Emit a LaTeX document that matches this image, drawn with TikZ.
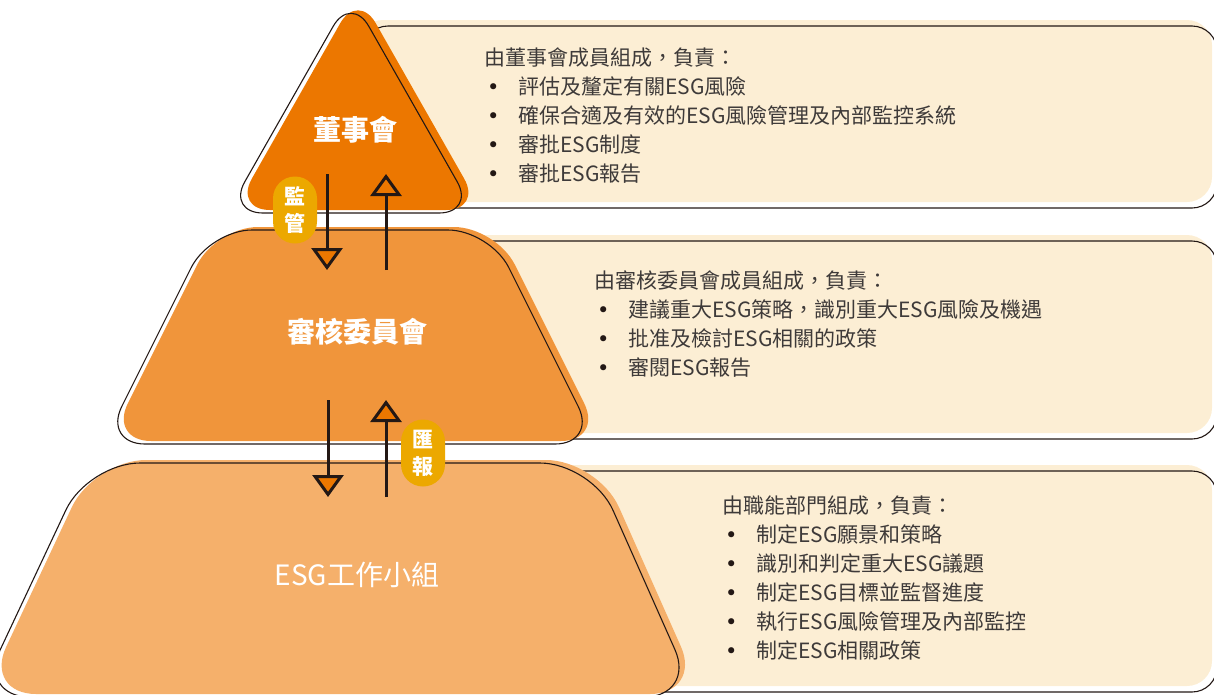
\documentclass[tikz,border=0pt]{standalone}
\usepackage{fontspec}
\setmainfont{Noto Sans CJK TC}
\newfontfamily\bulfont{DejaVu Sans}
\usetikzlibrary{arrows.meta}

\definecolor{tierA}{RGB}{236,119,0}
\definecolor{tierB}{RGB}{240,149,59}
\definecolor{tierC}{RGB}{245,176,107}
\definecolor{cream}{RGB}{252,238,212}
\definecolor{badgeC}{RGB}{236,168,0}
\definecolor{lineC}{RGB}{35,24,21}
\definecolor{textC}{RGB}{62,58,57}

\tikzset{
  edgeline/.style={draw=lineC, line width=1.1pt},
  flow/.style={-{Triangle[width=31pt,length=22pt,line width=3pt,fill=tierA]}, draw=lineC, line width=3pt},
  badge/.style={fill=badgeC, rounded corners=22pt, minimum width=44pt, minimum height=67pt,
    inner sep=0pt, text=white, align=center, font=\fontsize{21}{27}\selectfont\bfseries},
  tiertext/.style={text=white, font=\fontsize{28}{30}\selectfont},
  bodytext/.style={text=textC, align=left, anchor=north west, inner sep=0pt,
    font=\fontsize{21}{29}\selectfont},
}
\newcommand{\bul}{\hspace*{3pt}\makebox[31pt][l]{\textcolor{lineC}{\bulfont •}}}

\begin{document}
\begin{tikzpicture}[x=1pt,y=-1pt]
    \clip (0,0) rectangle (1214,694);

    % text panels
    \fill[cream, rounded corners=25pt] (358,20) rectangle (1212,202);
    \draw[edgeline, rounded corners=25pt, xshift=5pt, yshift=-6pt] (358,20) rectangle (1212,202);
    \fill[cream, rounded corners=25pt] (358,235) rectangle (1212,433);
    \draw[edgeline, rounded corners=25pt, xshift=5pt, yshift=-6pt] (358,235) rectangle (1212,433);
    \fill[cream, rounded corners=25pt] (358,465) rectangle (1212,686);
    \draw[edgeline, rounded corners=25pt, xshift=5pt, yshift=-6pt] (358,465) rectangle (1212,686);

    % pyramid
    \fill[tierA, rounded corners=36pt] (358,210) -- (234,210) -- (358,-8) -- (482,210) -- cycle;
    \draw[edgeline, rounded corners=36pt, xshift=-7pt, yshift=-3pt] (358,210) -- (234,210) -- (358,-8) -- (482,210) -- cycle;
    \fill[tierB, rounded corners=42pt] (356,441) -- (109,441) -- (216,227) -- (496,227) -- (603,441) -- cycle;
    \draw[edgeline, rounded corners=42pt, xshift=-6pt, yshift=-3pt] (356,441) -- (109,441) -- (216,227) -- (496,227) -- (603,441) -- cycle;
    \fill[tierC, rounded corners=52pt] (348,694) -- (-16,694) -- (94,460) -- (598,460) -- (702,694) -- cycle;
    \draw[edgeline, rounded corners=52pt, xshift=-6pt, yshift=-3pt] (348,694) -- (-16,694) -- (94,460) -- (598,460) -- (702,694) -- cycle;

    \node[tiertext, font=\fontsize{28}{30}\selectfont\bfseries] (board) at (355,130) {董事會};
    \node[tiertext, font=\fontsize{28}{30}\selectfont\bfseries] (audit) at (357,332) {審核委員會};
    \node[tiertext] (group) at (357,575) {ESG工作小組};

    % reporting lines
    \coordinate (s1) at (327,174);
    \coordinate (e1) at (327,270);
    \coordinate (s2) at (386,270);
    \coordinate (e2) at (386,174);
    \coordinate (s3) at (328,400);
    \coordinate (e3) at (328,497);
    \coordinate (s4) at (386,497);
    \coordinate (e4) at (386,400);

    \draw [flow] (s1) -- (e1);
    \draw [flow] (s2) -- (e2);
    \draw [flow] (s3) -- (e3);
    \draw [flow] (s4) -- (e4);

    \node[badge] (watch) at (295,210) {監\\管};
    \node[badge] (report) at (423,453) {匯\\報};

    % duties
    \node[bodytext] (dutyA) at (484,48) {由董事會成員組成，負責：\\
      \bul 評估及釐定有關ESG風險\\
      \bul 確保合適及有效的ESG風險管理及內部監控系統\\
      \bul 審批ESG制度\\
      \bul 審批ESG報告};
    \node[bodytext] (dutyB) at (594,271) {由審核委員會成員組成，負責：\\
      \bul 建議重大ESG策略，識別重大ESG風險及機遇\\
      \bul 批准及檢討ESG相關的政策\\
      \bul 審閱ESG報告};
    \node[bodytext] (dutyC) at (722,496) {由職能部門組成，負責：\\
      \bul 制定ESG願景和策略\\
      \bul 識別和判定重大ESG議題\\
      \bul 制定ESG目標並監督進度\\
      \bul 執行ESG風險管理及內部監控\\
      \bul 制定ESG相關政策};
\end{tikzpicture}
\end{document}
